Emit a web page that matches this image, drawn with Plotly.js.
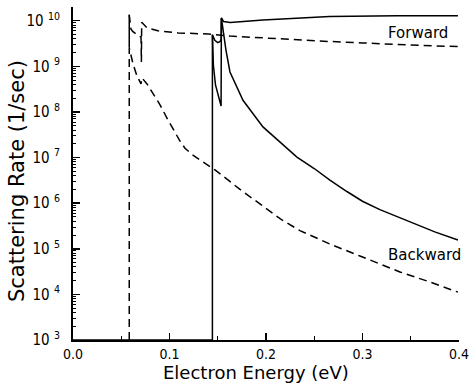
<!DOCTYPE html>
<html>
<head>
<meta charset="utf-8">
<script src="https://cdn.plot.ly/plotly-3.0.1.min.js"></script>
<style>html,body{margin:0;padding:0;background:#fff;}#chart{width:469px;height:384px;}</style>
</head>
<body>
<div id="chart"></div>
<script>
// Solid curves (second process, threshold ~0.145 eV)
const xFwdSolid = [0, 0.1445, 0.1445, 0.147, 0.150, 0.1525, 0.1535, 0.1538, 0.156, 0.163, 0.197, 0.232, 0.266, 0.336, 0.399];
const yFwdSolid = [1e3, 1e3, 4.9e9, 3.7e9, 3.3e9, 3.5e9, 3.9e9, 1.15e10, 9.6e9, 9.1e9, 1.04e10, 1.14e10, 1.23e10, 1.29e10, 1.29e10];

const xBwdSolid = [0.1445, 0.1455, 0.1477, 0.1535, 0.1538, 0.1554, 0.1585, 0.1627, 0.1700, 0.1762, 0.1969, 0.2150, 0.2321, 0.2500, 0.2663, 0.2839, 0.3000, 0.3181, 0.3350, 0.3523, 0.3750, 0.399];
const yBwdSolid = [4.9e9, 1.07e9, 3.9e8, 1.35e8, 1.15e10, 6.0e9, 2.3e9, 7.5e8, 3.4e8, 1.8e8, 4.7e7, 2.1e7, 1.02e7, 5.75e6, 3.2e6, 1.8e6, 1.1e6, 7.2e5, 5.1e5, 3.7e5, 2.34e5, 1.55e5];

// Dashed curves (first process, threshold ~0.058 eV)
const xFwdDash = [0.0583, 0.0600, 0.0619, 0.0653, 0.0684, 0.0705, 0.0709, 0.0712, 0.0767, 0.088, 0.109, 0.140, 0.163, 0.197, 0.232, 0.266, 0.300, 0.336, 0.399];
const yFwdDash = [1.35e10, 6.6e9, 5.8e9, 5.1e9, 4.6e9, 4.4e9, 1.25e9, 9.2e9, 7.0e9, 6.0e9, 5.4e9, 5.1e9, 4.6e9, 4.2e9, 3.8e9, 3.5e9, 3.26e9, 3.0e9, 2.7e9];

const xBwdDash = [0.0583, 0.0583, 0.0622, 0.0663, 0.0705, 0.0715, 0.0767, 0.0819, 0.0902, 0.0984, 0.1057, 0.1109, 0.1161, 0.1233, 0.1316, 0.1388, 0.1472, 0.1606, 0.1731, 0.1969, 0.2150, 0.2352, 0.2663, 0.2974, 0.3389, 0.3699, 0.3927, 0.399];
const yBwdDash = [1e3, 2.54e9, 1.13e9, 6.15e8, 4.11e8, 5.57e8, 4.11e8, 2.75e8, 1.43e8, 6.68e7, 3.46e7, 2.3e7, 1.6e7, 1.17e7, 8.9e6, 7.0e6, 5.35e6, 3.23e6, 2.0e6, 8.6e5, 4.5e5, 2.5e5, 1.27e5, 6.95e4, 3.10e4, 1.87e4, 1.25e4, 1.12e4];

// Threshold spike drawn solid at the first threshold
const xSpike = [0.0583, 0.0583];
const ySpike = [1.35e10, 2.54e9];

// Tick labels
const xTickVals = [0, 0.1, 0.2, 0.3, 0.4];
const xTickText = ['0.0', '0.1', '0.2', '0.3', '0.4'];
const xMinorVals = [0.05, 0.15, 0.25, 0.35];
const yTickVals = [1e3, 1e4, 1e5, 1e6, 1e7, 1e8, 1e9, 1e10];
const yTickExp = ['3', '4', '5', '6', '7', '8', '9', '10'];
const yMinorMult = [2, 3, 4, 5, 6, 7, 8, 9];

// Curve labels
const labelText = ['Forward', 'Backward'];
const labelX = [0.3575, 0.3648];
const labelY = [5.4e9, 7.3e4];

// Axis titles
const xTitle = 'Electron Energy (eV)';
const yTitle = 'Scattering Rate (1/sec)';

const yMinorVals = [];
yTickVals.forEach(d => yMinorMult.forEach(m => { if (Math.log10(d * m) <= 10.3) yMinorVals.push(d * m); }));

const solidLine = {color: '#000', width: 1.5};
const dashLine = {color: '#000', width: 1.5, dash: '8px,5px'};

const traces = [
  {x: xFwdSolid, y: yFwdSolid, mode: 'lines', line: solidLine, hoverinfo: 'skip'},
  {x: xBwdSolid, y: yBwdSolid, mode: 'lines', line: solidLine, hoverinfo: 'skip'},
  {x: xFwdDash, y: yFwdDash, mode: 'lines', line: dashLine, hoverinfo: 'skip'},
  {x: xBwdDash, y: yBwdDash, mode: 'lines', line: dashLine, hoverinfo: 'skip'},
  {x: xSpike, y: ySpike, mode: 'lines', line: solidLine, hoverinfo: 'skip'},
  // carrier for the minor-tick axes (nothing visible)
  {x: [0.2], y: [1e6], xaxis: 'x2', yaxis: 'y2', mode: 'markers', marker: {opacity: 0, size: 1}, hoverinfo: 'skip'}
];

const tickFont = {family: 'Liberation Sans Narrow, DejaVu Sans Condensed, Liberation Sans, sans-serif', size: 14, color: '#000'};
const xRange = [0, 0.4001];
const yRange = [3, 10.3];

const layout = {
  width: 469, height: 384,
  margin: {l: 73, r: 10, t: 7, b: 44, pad: 0},
  paper_bgcolor: '#fff', plot_bgcolor: '#fff',
  showlegend: false,
  xaxis: {
    range: xRange,
    tickmode: 'array', tickvals: xTickVals, ticktext: xTickText,
    ticks: 'inside', ticklen: 7, tickwidth: 1.5, tickcolor: '#000',
    showline: true, linecolor: '#000', linewidth: 2,
    showgrid: false, zeroline: false,
    tickfont: tickFont, ticklabelstandoff: 0, ticklabeloverflow: 'allow'
  },
  yaxis: {
    type: 'log', range: yRange,
    tickmode: 'array', tickvals: yTickVals,
    ticktext: yTickExp.map(e => '10 <sup>' + e + '</sup>'),
    ticks: 'inside', ticklen: 7, tickwidth: 1.5, tickcolor: '#000',
    showline: true, linecolor: '#000', linewidth: 2,
    showgrid: false, zeroline: false,
    tickfont: {family: tickFont.family, size: 15, color: '#000'}, ticklabelstandoff: 8
  },
  xaxis2: {
    overlaying: 'x', anchor: 'y', side: 'bottom', range: xRange,
    tickmode: 'array', tickvals: xMinorVals, ticks: 'inside', ticklen: 4, tickwidth: 1, tickcolor: '#000',
    showticklabels: false, showline: false, showgrid: false, zeroline: false
  },
  yaxis2: {
    overlaying: 'y', anchor: 'x', side: 'left', type: 'log', range: yRange,
    tickmode: 'array', tickvals: yMinorVals, ticks: 'inside', ticklen: 3, tickwidth: 1, tickcolor: '#000',
    showticklabels: false, showline: false, showgrid: false, zeroline: false
  },
  annotations: labelText.map((t, i) => ({
    x: labelX[i], y: Math.log10(labelY[i]), xref: 'x', yref: 'y',
    text: t, showarrow: false, xanchor: 'center', yanchor: 'middle',
    font: {family: 'DejaVu Sans, sans-serif', size: 15, color: '#000'}
  })).concat([
    {x: 0.474, y: -0.099, xref: 'paper', yref: 'paper', text: xTitle, showarrow: false,
     xanchor: 'center', yanchor: 'middle', font: {family: 'DejaVu Sans, sans-serif', size: 18, color: '#000'}},
    {x: -0.145, y: 0.4775, xref: 'paper', yref: 'paper', text: yTitle, showarrow: false, textangle: -90,
     xanchor: 'center', yanchor: 'middle', font: {family: 'DejaVu Sans, sans-serif', size: 21, color: '#000'}}
  ])
};

Plotly.newPlot('chart', traces, layout, {staticPlot: true, displayModeBar: false});
</script>
</body>
</html>
